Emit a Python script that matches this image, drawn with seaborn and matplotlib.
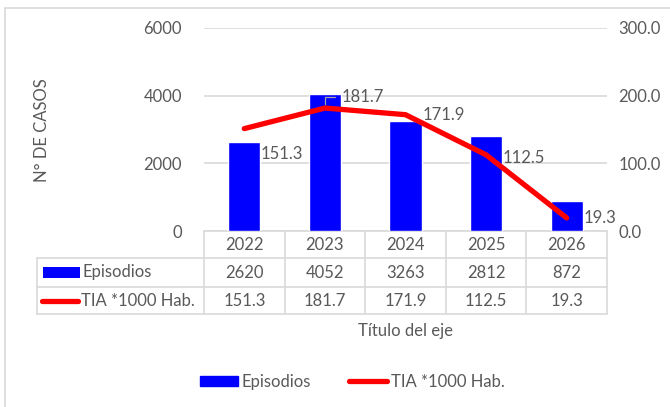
import matplotlib.pyplot as plt
import matplotlib.transforms as mtransforms
import numpy as np
import pandas as pd
import seaborn as sns
from matplotlib.patches import Rectangle
from matplotlib.lines import Line2D

years = ['2022', '2023', '2024', '2025', '2026']
episodios = [2620, 4052, 3263, 2812, 872]
tia = [151.3, 181.7, 171.9, 112.5, 19.3]

bar_name = 'Episodios'
line_name = 'TIA *1000 Hab.'
GRAY = '#595959'
GRID = '#D9D9D9'
FS = 12

sns.set_style('white')
plt.rcParams['font.family'] = ['Lato', 'DejaVu Sans']
plt.rcParams['font.size'] = FS

df = pd.DataFrame({'year': years, 'episodios': episodios, 'tia': tia})
df['pos'] = np.arange(len(df))

fig = plt.figure(figsize=(6.7, 4.07), dpi=100)
ax = fig.add_axes([204 / 670, 1 - 231 / 407, 403 / 670, 203 / 407])

# outer chart frame
fig.patches.append(Rectangle((5 / 670, -0.05), 1.2, 1 - 8 / 407 + 0.05, transform=fig.transFigure,
                             fill=False, edgecolor=GRID, lw=1.2))

sns.barplot(ax=ax, data=df, x='year', y='episodios', color='#0000FF', saturation=1, width=0.4,
            errorbar=None, zorder=3)
ax.set_ylim(0, 6000)
ax.set_yticks([0, 2000, 4000, 6000])
ax.set_xlim(-0.5, len(years) - 0.5)
ax.set_xticks([])
ax.set_xlabel('')
ax.set_ylabel('')
ax.yaxis.grid(True, color=GRID, lw=1.2, zorder=0)
ax.set_axisbelow(True)
ax.tick_params(axis='y', colors=GRAY, labelsize=FS, length=0, pad=16)
for s in ax.spines.values():
    s.set_visible(False)

ax2 = ax.twinx()
sns.lineplot(ax=ax2, data=df, x='pos', y='tia', color='#FF0000', lw=3.8, solid_capstyle='round', zorder=4)
ax2.set_ylim(0, 300)
ax2.set_yticks([0, 100, 200, 300])
ax2.set_yticklabels([f'{v:.1f}' for v in [0, 100, 200, 300]])
ax2.set_xlim(-0.5, len(years) - 0.5)
ax2.set_ylabel('')
ax2.set_xlabel('')
ax2.tick_params(axis='y', colors=GRAY, labelsize=FS, length=0, pad=8)
for s in ax2.spines.values():
    s.set_visible(False)

offsets = [(12, -18), (12, 8), (12, 0), (12, -2), (12, 0)]
for i, v in enumerate(tia):
    ax2.annotate(f'{v}', (i, v), xytext=offsets[i], textcoords='offset points', color=GRAY,
                 fontsize=FS, va='center', ha='left', zorder=5)

# small leader line for the 2023 label
p = ax2.transData.transform((1, tia[1]))
k = fig.dpi / 72
ax2.add_line(Line2D([p[0], p[0], p[0] + 7 * k], [p[1] + 3 * k, p[1] + 8 * k, p[1] + 8 * k],
                    transform=mtransforms.IdentityTransform(), color='#A6A6A6', lw=0.9, zorder=6))

# data table below the axes
r0, r1, r2, r3 = 0, -27 / 203, -56 / 203, -83 / 203
xl = (37 - 204) / 403
n = len(years)
tkw = dict(transform=ax.transAxes, clip_on=False, color=GRID, lw=1.2)
ax.add_line(Line2D([0, 1], [r0, r0], **tkw))
for yy in (r1, r2, r3):
    ax.add_line(Line2D([xl, 1], [yy, yy], **tkw))
ax.add_line(Line2D([xl, xl], [r1, r3], **tkw))
for c in range(n + 1):
    ax.add_line(Line2D([c / n, c / n], [r0, r3], **tkw))
for c in range(n):
    cx = (c + 0.5) / n
    ax.text(cx, (r0 + r1) / 2, years[c], transform=ax.transAxes, ha='center', va='center', color=GRAY)
    ax.text(cx, (r1 + r2) / 2, f'{episodios[c]}', transform=ax.transAxes, ha='center', va='center', color=GRAY)
    ax.text(cx, (r2 + r3) / 2, f'{tia[c]}', transform=ax.transAxes, ha='center', va='center', color=GRAY)

ax.add_patch(Rectangle(((43 - 204) / 403, (231 - 278) / 203), 37 / 403, 11 / 203,
                       transform=ax.transAxes, clip_on=False, color='#0000FF', lw=0))
ax.text((83 - 204) / 403, (r1 + r2) / 2, bar_name, transform=ax.transAxes, ha='left', va='center', color=GRAY)
ax.add_line(Line2D([(42 - 204) / 403, (78 - 204) / 403], [(231 - 301) / 203] * 2, transform=ax.transAxes,
                   clip_on=False, color='#FF0000', lw=3.8, solid_capstyle='round'))
ax.text((81 - 204) / 403, (r2 + r3) / 2, line_name, transform=ax.transAxes, ha='left', va='center', color=GRAY)

fig.text(405 / 670, 1 - 331 / 407, 'Título del eje', ha='center', va='center', color=GRAY, fontsize=FS)
fig.text(42 / 670, 1 - 130 / 407, 'N° DE CASOS', rotation=90, ha='center', va='center', color=GRAY, fontsize=FS)

# bottom legend
handles = [Rectangle((0, 0), 1, 1, color='#0000FF'),
           Line2D([0], [0], color='#FF0000', lw=3.8, solid_capstyle='round')]
fig.legend(handles, [bar_name, line_name], loc='center', bbox_to_anchor=(352 / 670, 1 - 382 / 407),
           ncol=2, frameon=False, labelcolor=GRAY, fontsize=FS, handlelength=2.3, handleheight=0.6,
           handletextpad=0.2, columnspacing=2.3)

fig.savefig('out.png', dpi=100)
